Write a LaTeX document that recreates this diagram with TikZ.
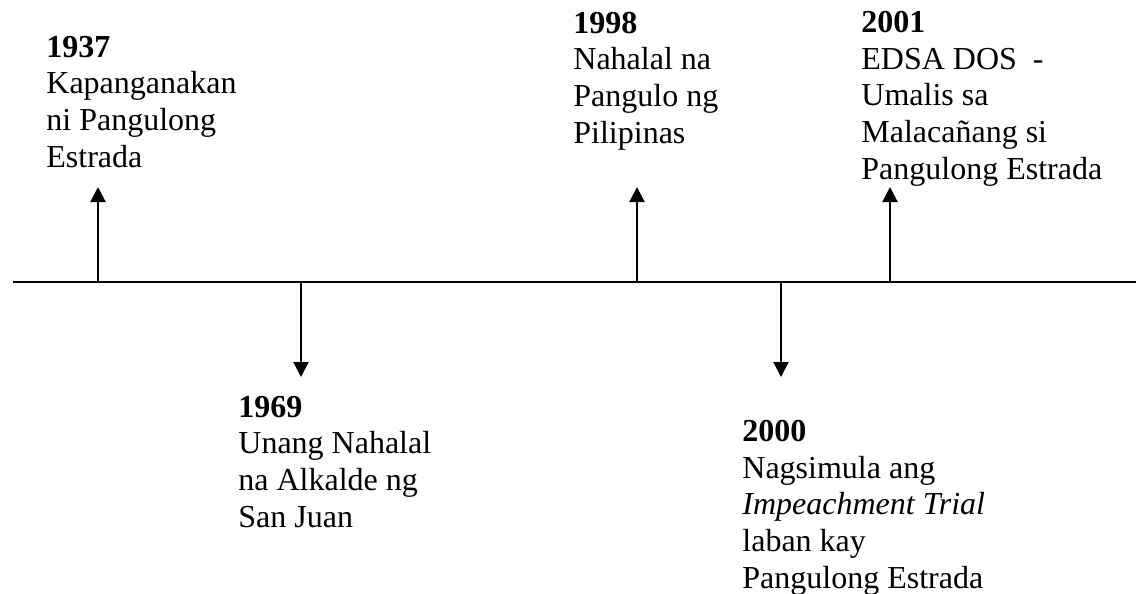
\documentclass[tikz,border=0pt]{standalone}
\usepackage{fontspec}
\setmainfont{Liberation Serif}
\usetikzlibrary{arrows.meta}

\begin{document}
\begin{tikzpicture}[x=0.5pt,y=-0.5pt,
  event/.style={anchor=base west,align=left,inner sep=0pt,font=\fontsize{16}{18.3}\selectfont},
  pointer/.style={-{Triangle[length=7.5pt,width=7.5pt]},line width=1pt}]
\useasboundingbox (0,0) rectangle (1136,594);

% Timeline
\coordinate (start) at (13,282);
\coordinate (end) at (1136,282);
\draw[line width=1pt] (start) -- (end);

% 1937 (node placed at its last baseline)
\coordinate (t1937) at (98,282);
\coordinate (h1937) at (98,187);
\draw[pointer] (t1937) -- (h1937);
\node[event] (y1937) at (46,167) {\textbf{1937}\\Kapanganakan\\ni Pangulong\\Estrada};

% 1969
\coordinate (t1969) at (301,282);
\coordinate (h1969) at (301,377);
\draw[pointer] (t1969) -- (h1969);
\node[event] (y1969) at (238,527) {\textbf{1969}\\Unang Nahalal\\na Alkalde ng\\San Juan};

% 1998
\coordinate (t1998) at (637,282);
\coordinate (h1998) at (637,187);
\draw[pointer] (t1998) -- (h1998);
\node[event] (y1998) at (573,143) {\textbf{1998}\\Nahalal na\\Pangulo ng\\Pilipinas};

% 2000
\coordinate (t2000) at (781,282);
\coordinate (h2000) at (781,377);
\draw[pointer] (t2000) -- (h2000);
\node[event] (y2000) at (742,588) {\textbf{2000}\\Nagsimula ang\\\textit{Impeachment Trial}\\laban kay\\Pangulong Estrada};

% 2001
\coordinate (t2001) at (890,282);
\coordinate (h2001) at (890,187);
\draw[pointer] (t2001) -- (h2001);
\node[event] (y2001) at (861,179) {\textbf{2001}\\EDSA DOS\ \ -\\Umalis sa\\Malaca\~nang si\\Pangulong Estrada};
\end{tikzpicture}
\end{document}
